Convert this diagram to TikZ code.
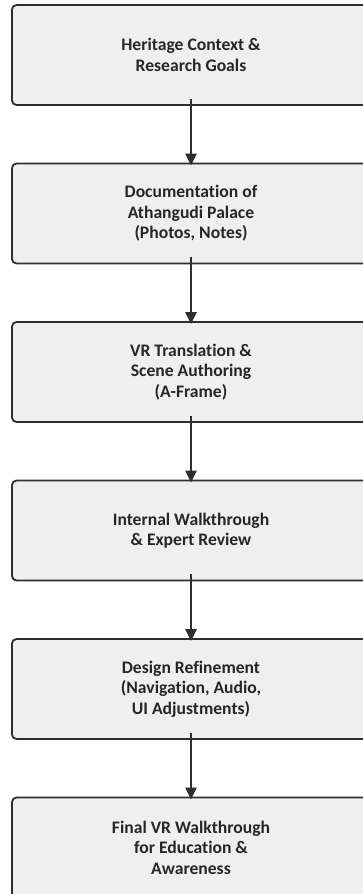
\documentclass[tikz,border=0pt]{standalone}
\usepackage{fontspec}
\setmainfont{Carlito}[Ligatures=NoCommon]
\usetikzlibrary{arrows.meta}
\definecolor{boxfill}{HTML}{EFEFEF}
\definecolor{boxline}{HTML}{2E2E2E}
\definecolor{txt}{HTML}{262626}
\tikzset{
  stepbox/.style={draw=boxline, fill=boxfill, line width=1.8pt, rounded corners=4.5pt,
    minimum width=358pt, minimum height=100pt, inner sep=0pt, align=center,
    text=txt, font=\fontsize{17.6}{20.5}\selectfont\bfseries},
  flow/.style={draw=boxline, line width=2.2pt, -{Triangle[length=12pt,width=11pt]}, shorten >=-3pt}
}
\begin{document}
\begin{tikzpicture}[x=1pt,y=-1pt]
\useasboundingbox (0,0) rectangle (363,894);
\clip (0,0) rectangle (363,894);
\node[stepbox] (b1) at (191,55) {Heritage Context \&\\Research Goals};
\node[stepbox] (b2) at (191,213.5) {Documentation of\\Athangudi Palace\\(Photos, Notes)};
\node[stepbox] (b3) at (191,372) {VR Translation \&\\Scene Authoring\\(A-Frame)};
\node[stepbox] (b4) at (191,530.5) {Internal Walkthrough\\\& Expert Review};
\node[stepbox] (b5) at (191,689) {Design Refinement\\(Navigation, Audio,\\UI Adjustments)};
\node[stepbox] (b6) at (191,847.5) {Final VR Walkthrough\\for Education \&\\Awareness};
\foreach \a/\b in {b1/b2,b2/b3,b3/b4,b4/b5,b5/b6}{
  \draw[flow] ([yshift=7pt]\a.south) -- (\b.north);
}
\end{tikzpicture}
\end{document}
